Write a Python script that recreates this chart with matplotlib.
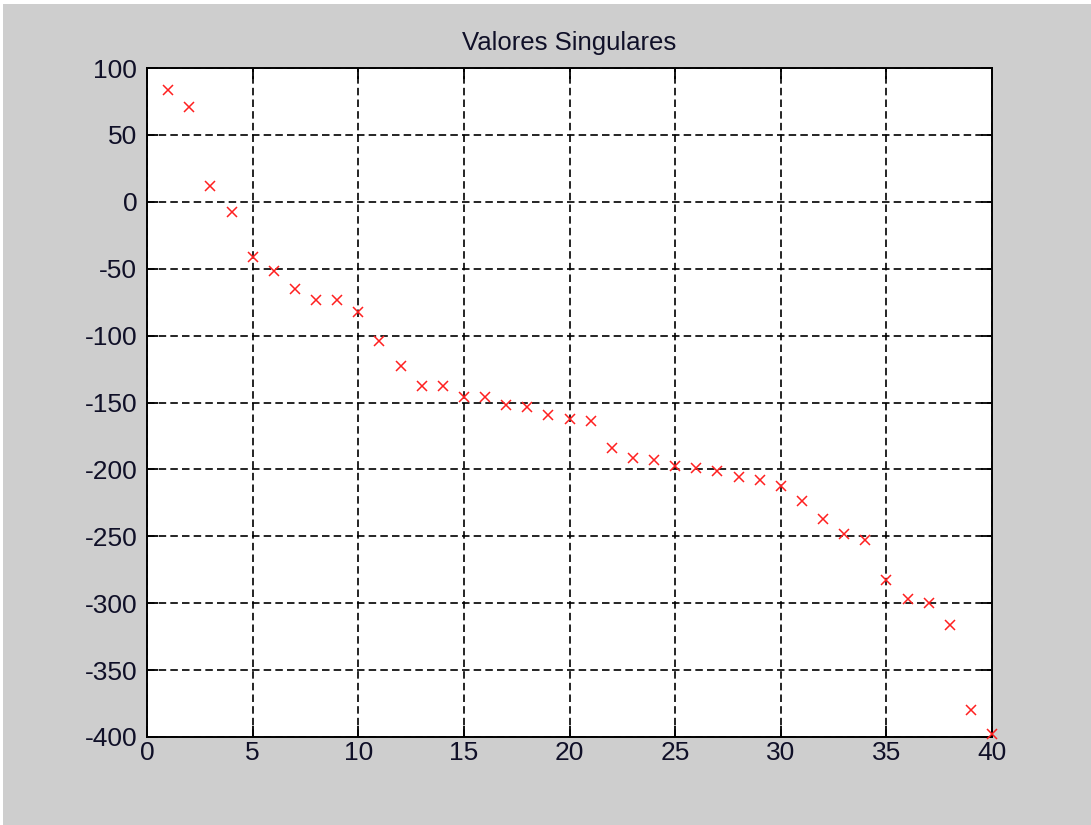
import numpy as np
import matplotlib.pyplot as plt
from matplotlib.patches import Rectangle

# singular values
indice = np.arange(1, 41)
valores = [83.7, 70.5, 11.8, -7.5, -41.2, -51.7, -65.0, -73.2, -73.2, -82.5,
           -104.4, -122.6, -137.5, -137.5, -146.0, -146.0, -152.0, -153.7, -159.4, -162.3,
           -163.6, -184.2, -191.2, -193.0, -197.5, -199.0, -201.5, -205.5, -208.0, -212.2,
           -223.3, -237.0, -248.5, -253.0, -282.5, -297.0, -300.0, -316.0, -380.0, -398.0]
xticks = list(range(0, 41, 5))
yticks = list(range(-400, 101, 50))

plt.rcParams['font.family'] = ['Liberation Sans', 'DejaVu Sans']
plt.rcParams['axes.unicode_minus'] = False

fig = plt.figure(figsize=(10.91, 8.25), dpi=100, facecolor='white')
# grey MATLAB-style figure area, with a thin white strip on top and left
fig.patches.append(Rectangle((3 / 1091, 0), 1, 1 - 4 / 825, transform=fig.transFigure,
                             facecolor='#cecece', edgecolor='none', zorder=-10))

ax = fig.add_axes([147 / 1091, 1 - 737 / 825, 845 / 1091, 669 / 825])
ax.plot(indice, valores, 'x', color='#ff2020', markersize=7, markeredgewidth=1.1,
        clip_on=False, zorder=3)

ax.set_xlim(0, 40)
ax.set_ylim(-400, 100)
ax.set_xticks(xticks)
ax.set_yticks(yticks)
ax.grid(True, color='black', linestyle=(0, (4.5, 2.5)), linewidth=1.2)
ax.tick_params(direction='in', length=8, width=1.3, top=True, right=True,
               labelsize=19, colors='black', labelcolor='#101028')
ax.tick_params(axis='y', pad=7)
ax.tick_params(axis='x', pad=3)
for s in ax.spines.values():
    s.set_linewidth(1.4)

ax.set_title('Valores Singulares', fontsize=18.5, color='#101028', pad=13)

fig.savefig('out.png', dpi=100, facecolor=fig.get_facecolor())
